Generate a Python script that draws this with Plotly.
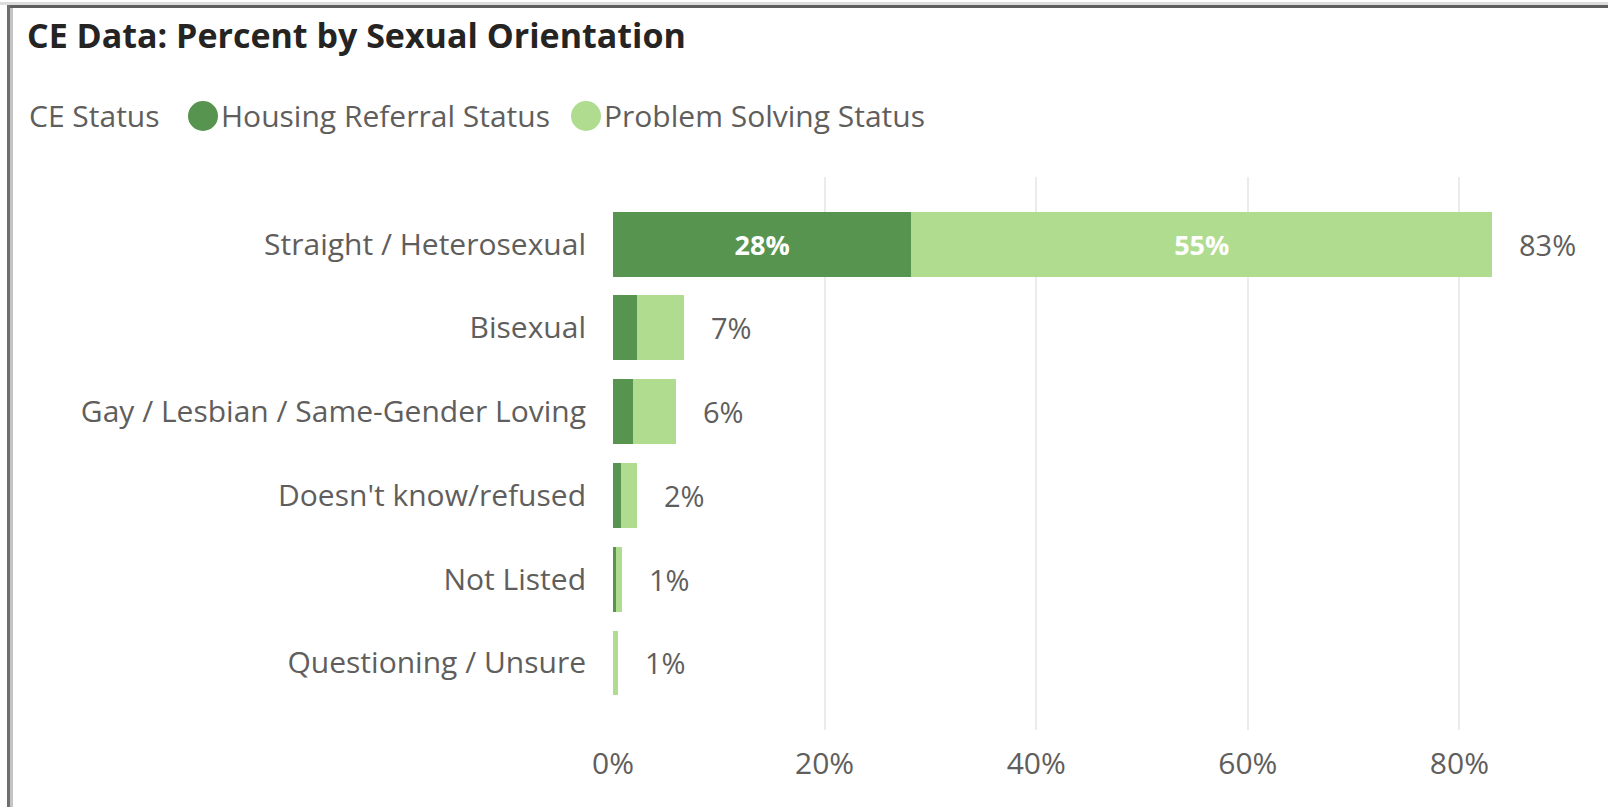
import plotly.graph_objects as go

# ---- data ----
categories = [
    "Straight / Heterosexual",
    "Bisexual",
    "Gay / Lesbian / Same-Gender Loving",
    "Doesn't know/refused",
    "Not Listed",
    "Questioning / Unsure",
]
series_names = ["Housing Referral Status", "Problem Solving Status"]
housing_referral = [28.2, 2.3, 1.9, 0.75, 0.25, 0.0]
problem_solving = [54.9, 4.4, 4.1, 1.5, 0.6, 0.5]
x_tick_vals = [0, 20, 40, 60, 80]
x_tick_text = ["0%", "20%", "40%", "60%", "80%"]

totals = [a + b for a, b in zip(housing_referral, problem_solving)]
total_labels = [f"{int(t + 0.5)}%" for t in totals]

# ---- style ----
W, H = 1608, 807
L, R, T, B = 613, 48, 177, 77
PW, PH = W - L - R, H - T - B
FONT = "Segoe UI, Open Sans, sans-serif"
GRAY = "#605E5C"
DARK = "#57944F"
LIGHT = "#B0DC90"
FS = 30


def px2x(px):
    return (px - L) / PW


def py2y(py):
    return (H - B - py) / PH


def inside_text(vals):
    return [f"{v:.0f}%" if v >= 10 else "" for v in vals]


fig = go.Figure()
for name, vals, color in [
    (series_names[0], housing_referral, DARK),
    (series_names[1], problem_solving, LIGHT),
]:
    fig.add_trace(
        go.Bar(
            y=categories,
            x=vals,
            name=name,
            orientation="h",
            marker=dict(color=color, line=dict(width=0)),
            text=inside_text(vals),
            textposition="inside",
            insidetextanchor="middle",
            textfont=dict(color="white", size=27, family=FONT, weight="bold"),
            showlegend=False,
            hoverinfo="skip",
        )
    )

annotations = []
for cat, tot, lab in zip(categories, totals, total_labels):
    annotations.append(
        dict(
            x=tot, y=cat, xref="x", yref="y", text=lab, showarrow=False,
            xanchor="left", yanchor="middle", xshift=25,
            font=dict(color=GRAY, size=29, family=FONT),
        )
    )

# legend (manual, circle markers)
leg_y = 116
annotations.append(dict(x=px2x(27), y=py2y(leg_y), xref="paper", yref="paper",
                        text="CE Status", showarrow=False, xanchor="left", yanchor="middle",
                        font=dict(color=GRAY, size=FS, family=FONT)))
shapes = []
for cx, tx, name, color in [(203, 219, series_names[0], DARK), (586, 602, series_names[1], LIGHT)]:
    r = 15
    shapes.append(dict(type="circle", xref="paper", yref="paper",
                       x0=px2x(cx - r), x1=px2x(cx + r), y0=py2y(leg_y + r), y1=py2y(leg_y - r),
                       fillcolor=color, line=dict(width=0)))
    annotations.append(dict(x=px2x(tx), y=py2y(leg_y), xref="paper", yref="paper",
                            text=name, showarrow=False, xanchor="left", yanchor="middle",
                            font=dict(color=GRAY, size=FS, family=FONT)))

# frame
shapes.append(dict(type="line", xref="paper", yref="paper", x0=px2x(0), x1=px2x(W),
                   y0=py2y(3.5), y1=py2y(3.5), line=dict(color="#DCDCDC", width=3)))
shapes.append(dict(type="line", xref="paper", yref="paper", x0=px2x(7), x1=px2x(W),
                   y0=py2y(6.5), y1=py2y(6.5), line=dict(color="#5F5F5F", width=3)))
shapes.append(dict(type="line", xref="paper", yref="paper", x0=px2x(8.5), x1=px2x(8.5),
                   y0=py2y(5), y1=py2y(H), line=dict(color="#6F6F6F", width=3)))
shapes.append(dict(type="line", xref="paper", yref="paper", x0=px2x(11.5), x1=px2x(11.5),
                   y0=py2y(8), y1=py2y(H), line=dict(color="#C4C4C4", width=3)))

n = len(categories)
fig.update_layout(
    width=W, height=H,
    margin=dict(l=L, r=R, t=T, b=B, autoexpand=False),
    barmode="stack",
    bargap=0.225,
    paper_bgcolor="white",
    plot_bgcolor="white",
    font=dict(family=FONT, color=GRAY),
    title=dict(text="CE Data: Percent by Sexual Orientation", xref="container", yref="container",
               x=27 / W, y=1 - 36 / H, xanchor="left", yanchor="middle",
               font=dict(size=34, color="#252423", family=FONT, weight="bold")),
    xaxis=dict(range=[0, PW / 10.58], tickvals=x_tick_vals, ticktext=x_tick_text,
               showgrid=True, gridcolor="#EBEBEB", gridwidth=2, zeroline=False,
               showline=False, ticks="", ticklabelstandoff=13,
               tickfont=dict(size=FS, color=GRAY, family=FONT)),
    yaxis=dict(type="category", categoryorder="array", categoryarray=categories,
               range=[n - 1 + 0.8, -0.8], showgrid=False, zeroline=False, showline=False,
               ticks="", ticklabelstandoff=26,
               tickfont=dict(size=FS, color=GRAY, family=FONT)),
    annotations=annotations,
    shapes=shapes,
    uniformtext=dict(mode="show", minsize=10),
)

fig.write_html(
    "out.html",
    config={"displayModeBar": False},
    post_script="document.body.style.margin='0';document.body.style.overflow='hidden';",
)
